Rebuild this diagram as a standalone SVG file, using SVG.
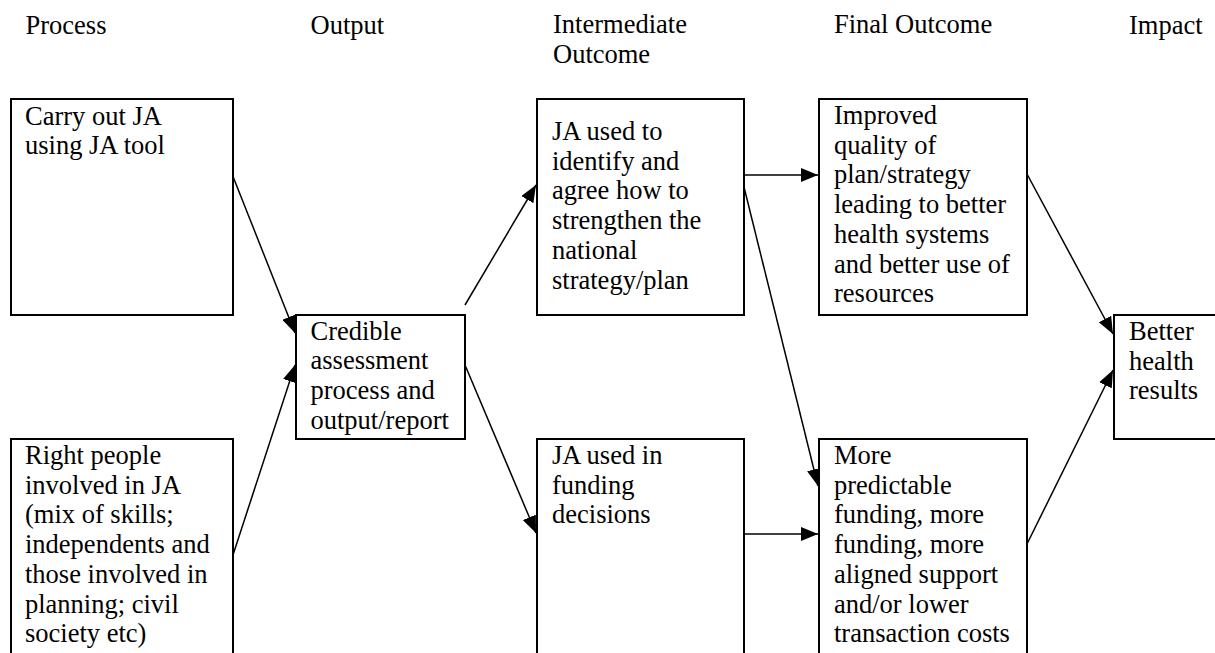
<svg xmlns="http://www.w3.org/2000/svg" width="1215" height="653" viewBox="0 0 1215 653">
<style>
.t{font-family:'Liberation Serif','Times New Roman',serif;font-size:26.5px;fill:#000}
.box{fill:#fff;stroke:#000;stroke-width:2}
.conn{stroke:#000;stroke-width:1.5;fill:none}
</style>
<defs>
<marker id="ah" markerWidth="17" markerHeight="14" refX="17" refY="7" orient="auto" markerUnits="userSpaceOnUse">
<path d="M0,0 L17,7 L0,14 Z" fill="#000"/>
</marker>
</defs>
<rect width="1215" height="653" fill="#fff"/>
<g id="headers" class="t">
<text x="25.5" y="34">Process</text>
<text x="310.5" y="34">Output</text>
<text x="553" y="33">Intermediate</text>
<text x="553" y="62.5">Outcome</text>
<text x="834" y="33">Final Outcome</text>
<text x="1129" y="34">Impact</text>
</g>
<g id="connectors">
<line class="conn" x1="232" y1="174" x2="295" y2="333" marker-end="url(#ah)"/>
<line class="conn" x1="232" y1="558" x2="295" y2="365" marker-end="url(#ah)"/>
<line class="conn" x1="465" y1="305" x2="536" y2="185" marker-end="url(#ah)"/>
<line class="conn" x1="465" y1="365" x2="536" y2="533" marker-end="url(#ah)"/>
<line class="conn" x1="744" y1="175" x2="818" y2="175" marker-end="url(#ah)"/>
<line class="conn" x1="744" y1="187" x2="818" y2="486" marker-end="url(#ah)"/>
<line class="conn" x1="744" y1="534" x2="818" y2="534" marker-end="url(#ah)"/>
<line class="conn" x1="1027" y1="174" x2="1113" y2="334" marker-end="url(#ah)"/>
<line class="conn" x1="1027" y1="544" x2="1113" y2="370" marker-end="url(#ah)"/>
</g>
<g id="n-carry" class="t">
<rect class="box" x="11" y="99" width="222" height="216"/>
<text x="25" y="124.5">Carry out JA</text>
<text x="25" y="154.2">using JA tool</text>
</g>
<g id="n-right" class="t">
<rect class="box" x="11" y="439" width="222" height="240"/>
<text x="25" y="464">Right people</text>
<text x="25" y="493.7">involved in JA</text>
<text x="25" y="523.4">(mix of skills;</text>
<text x="25" y="553.1">independents and</text>
<text x="25" y="582.8">those involved in</text>
<text x="25" y="612.5">planning; civil</text>
<text x="25" y="642.2">society etc)</text>
</g>
<g id="n-credible" class="t">
<rect class="box" x="296" y="315" width="169" height="124"/>
<text x="310.5" y="339.5">Credible</text>
<text x="310.5" y="369.2">assessment</text>
<text x="310.5" y="398.9">process and</text>
<text x="310.5" y="428.6">output/report</text>
</g>
<g id="n-japlan" class="t">
<rect class="box" x="537" y="99" width="207" height="216"/>
<text x="552" y="140">JA used to</text>
<text x="552" y="169.7">identify and</text>
<text x="552" y="199.4">agree how to</text>
<text x="552" y="229.1">strengthen the</text>
<text x="552" y="258.8">national</text>
<text x="552" y="288.5">strategy/plan</text>
</g>
<g id="n-jafund" class="t">
<rect class="box" x="537" y="439" width="207" height="240"/>
<text x="552" y="464">JA used in</text>
<text x="552" y="493.7">funding</text>
<text x="552" y="523.4">decisions</text>
</g>
<g id="n-improved" class="t">
<rect class="box" x="819" y="99" width="208" height="216"/>
<text x="834" y="124">Improved</text>
<text x="834" y="153.7">quality of</text>
<text x="834" y="183.4">plan/strategy</text>
<text x="834" y="213.1">leading to better</text>
<text x="834" y="242.8">health systems</text>
<text x="834" y="272.5">and better use of</text>
<text x="834" y="302.2">resources</text>
</g>
<g id="n-more" class="t">
<rect class="box" x="819" y="439" width="208" height="240"/>
<text x="834" y="464">More</text>
<text x="834" y="493.7">predictable</text>
<text x="834" y="523.4">funding, more</text>
<text x="834" y="553.1">funding, more</text>
<text x="834" y="582.8">aligned support</text>
<text x="834" y="612.5">and/or lower</text>
<text x="834" y="642.2">transaction costs</text>
</g>
<g id="n-better" class="t">
<rect class="box" x="1114" y="315" width="120" height="124"/>
<text x="1129" y="340">Better</text>
<text x="1129" y="369.7">health</text>
<text x="1129" y="399.4">results</text>
</g>
</svg>
